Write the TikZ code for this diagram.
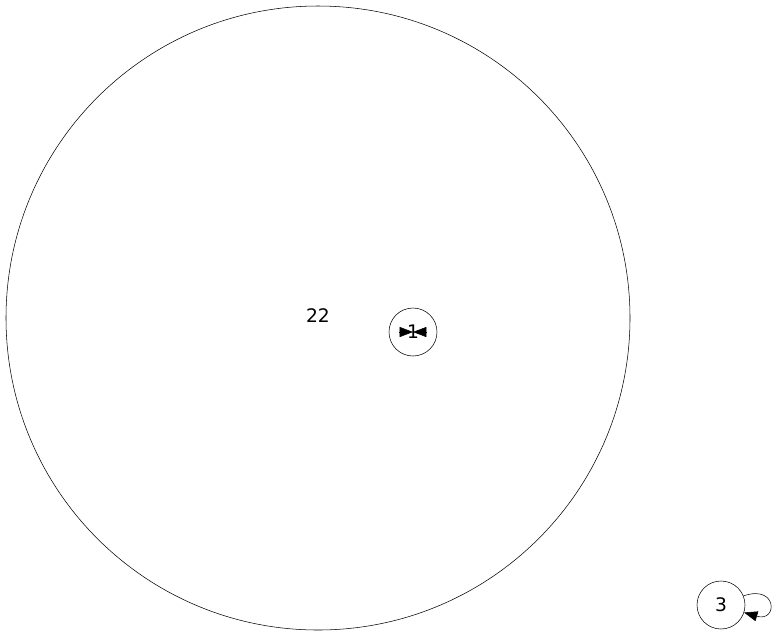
\documentclass[tikz,border=0pt]{standalone}
\usepackage{fontspec}
\setmainfont{DejaVu Sans}
\usetikzlibrary{arrows.meta,calc}
\tikzset{>={Triangle[length=10pt,width=7.5pt]},line width=.9pt,
  every node/.style={font=\fontsize{14pt}{16pt}\selectfont},
  vertex/.style={circle,draw,inner sep=0pt,minimum size=36pt},
  cluster/.style={circle,draw,inner sep=0pt,minimum size=468pt},
  arr/.style={->,draw}}

\begin{document}
\begin{tikzpicture}[x=.75pt,y=-.75pt]
\useasboundingbox(0,0)rectangle(775,637);
\node[cluster](n22)at(318,318){};
\node at(318,316){22};
\node[vertex](n1)at(413,332){1};
\node[vertex](n3)at(721,605){3};
\draw[arr]($(n1.center)+(-14,0)$)--(n1.center);
\draw[arr]($(n1.center)+(14,0)$)--(n1.center);
\draw[arr](n3.22)..controls +(34,-12) and +(34,10)..(n3.-18);
\end{tikzpicture}
\end{document}
